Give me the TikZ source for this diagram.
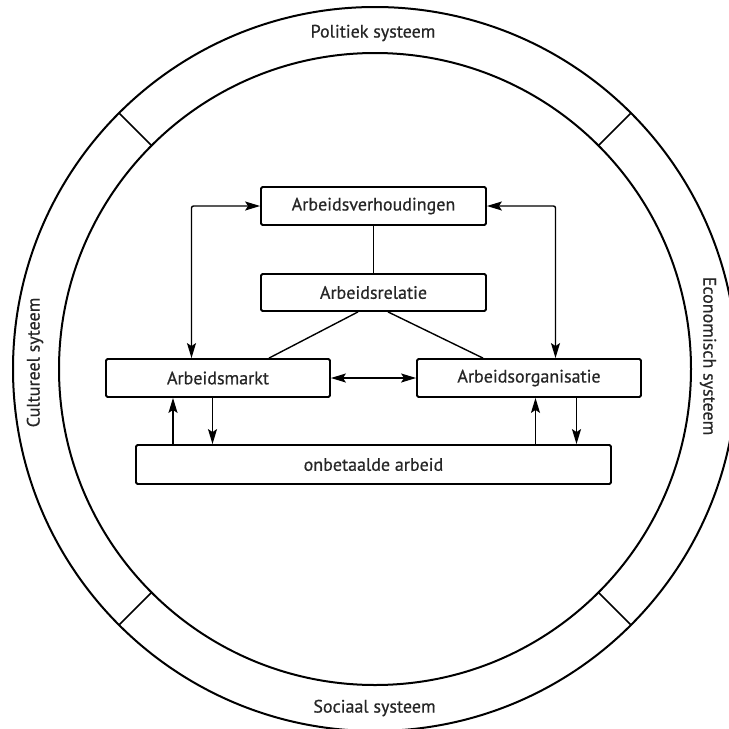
\documentclass[tikz,border=0pt]{standalone}
\usepackage{fontspec}
\setmainfont{PT Sans}[FakeBold=0.7]
\usetikzlibrary{arrows.meta}

\tikzset{
  blok/.style={draw, rounded corners=1.5pt, line width=1.8pt, inner sep=0pt,
    minimum width=224pt, minimum height=38pt},
  pijl/.style={line width=1.4pt, -{Stealth[length=15pt,width=9pt,inset=3pt]}},
  dubbel/.style={line width=1.4pt, rounded corners=2pt,
    {Stealth[length=15pt,width=9pt,inset=3pt]}-{Stealth[length=15pt,width=9pt,inset=3pt]}},
}

\begin{document}
\begin{tikzpicture}[x=1pt, y=-1pt, font=\fontsize{18}{21}\selectfont, text=black!85]
  \useasboundingbox (0,0) rectangle (729,729);
  \clip (0,0) rectangle (729,729);
  \coordinate (c) at (375,369);
  \draw[line width=2pt] (c) circle (362pt);
  \draw[line width=2pt] (c) circle (316pt);
  \foreach \a in {45,135,225,315}
    \draw[line width=1.7pt] ([shift={(\a:316pt)}]c) -- ([shift={(\a:362pt)}]c);
  \node (pol) at (373,33) {Politiek systeem};
  \node[rotate=-90] (eco) at (708,356) {Economisch systeem};
  \node (soc) at (374.5,708) {Sociaal systeem};
  \node[rotate=90] (cul) at (35,362.5) {Cultureel syteem};
  \node[blok, minimum width=225pt] (verh) at (373.5,206) {Arbeidsverhoudingen};
  \node[blok, minimum width=225pt, minimum height=37pt] (rel) at (373.5,292.5) {Arbeidsrelatie};
  \node[blok] (markt) at (218,378) {Arbeidsmarkt};
  \node[blok] (org) at (529,378) {Arbeidsorganisatie};
  \node[blok, minimum width=475pt, minimum height=39pt] (onb) at (373.5,464.5) {onbetaalde arbeid};
  \coordinate (lk) at (191.5,206);
  \coordinate (rk) at (555.5,206);
  \draw[dubbel] (verh.west) -- (lk) -- (lk |- markt.north);
  \draw[dubbel] (verh.east) -- (rk) -- (rk |- org.north);
  \draw[line width=1.4pt] (verh) -- (rel);
  \draw[line width=1.4pt] ([xshift=-15.5pt]rel.south) -- ([xshift=51pt]markt.north);
  \draw[line width=1.4pt] ([xshift=14.5pt]rel.south) -- ([xshift=-46pt]org.north);
  \draw[dubbel] (markt) -- (org);
  \draw[pijl] ([xshift=-45pt]markt.south |- onb.north) -- ([xshift=-45pt]markt.south);
  \draw[pijl] ([xshift=-5.5pt]markt.south) -- ([xshift=-5.5pt]markt.south |- onb.north);
  \draw[pijl] ([xshift=6.5pt]org.south |- onb.north) -- ([xshift=6.5pt]org.south);
  \draw[pijl] ([xshift=47.5pt]org.south) -- ([xshift=47.5pt]org.south |- onb.north);
\end{tikzpicture}
\end{document}
